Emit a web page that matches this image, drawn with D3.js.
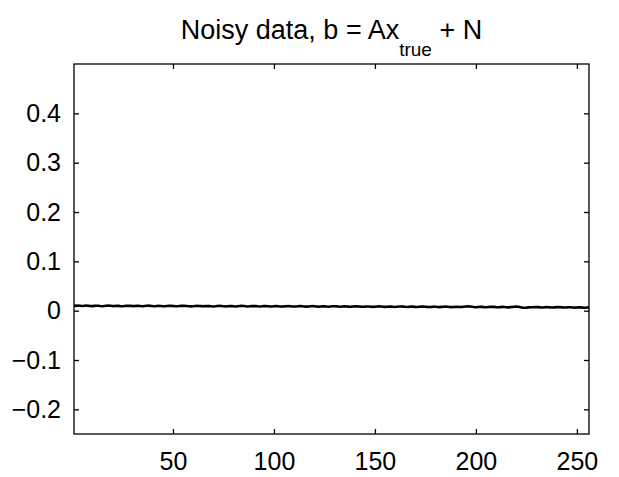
<!DOCTYPE html>
<html>
<head>
<meta charset="utf-8">
<script src="https://cdn.jsdelivr.net/npm/d3@7"></script>
<style>
  body { margin: 0; background: #fff; }
  text { font-family: "Liberation Sans", Arial, sans-serif; fill: #000; }
</style>
</head>
<body>
<div id="chart"></div>
<script>
// noisy data b = A x_true + N, one value per sample index 1..256
var bValues = [
  0.0102, 0.0098, 0.0105, 0.0101, 0.0096, 0.0099, 0.0104, 0.0100, 0.0095, 0.0092, 0.0097, 0.0101, 0.0099, 0.0094, 0.0091, 0.0096,
  0.0100, 0.0103, 0.0098, 0.0093, 0.0095, 0.0099, 0.0097, 0.0092, 0.0090, 0.0094, 0.0098, 0.0101, 0.0097, 0.0093, 0.0096, 0.0100,
  0.0098, 0.0094, 0.0091, 0.0095, 0.0099, 0.0102, 0.0097, 0.0093, 0.0090, 0.0094, 0.0097, 0.0095, 0.0091, 0.0088, 0.0093, 0.0097,
  0.0100, 0.0096, 0.0092, 0.0089, 0.0093, 0.0098, 0.0101, 0.0097, 0.0094, 0.0090, 0.0087, 0.0091, 0.0096, 0.0099, 0.0095, 0.0092,
  0.0088, 0.0092, 0.0096, 0.0093, 0.0089, 0.0086, 0.0090, 0.0095, 0.0098, 0.0094, 0.0090, 0.0087, 0.0091, 0.0094, 0.0092, 0.0088,
  0.0085, 0.0089, 0.0093, 0.0097, 0.0094, 0.0090, 0.0086, 0.0089, 0.0093, 0.0096, 0.0092, 0.0088, 0.0085, 0.0088, 0.0092, 0.0095,
  0.0091, 0.0087, 0.0084, 0.0088, 0.0092, 0.0090, 0.0086, 0.0083, 0.0087, 0.0091, 0.0094, 0.0090, 0.0086, 0.0083, 0.0086, 0.0090,
  0.0093, 0.0089, 0.0085, 0.0082, 0.0086, 0.0089, 0.0092, 0.0088, 0.0084, 0.0081, 0.0085, 0.0089, 0.0087, 0.0083, 0.0080, 0.0084,
  0.0088, 0.0091, 0.0087, 0.0083, 0.0080, 0.0084, 0.0088, 0.0086, 0.0082, 0.0079, 0.0083, 0.0087, 0.0090, 0.0086, 0.0082, 0.0079,
  0.0082, 0.0086, 0.0084, 0.0080, 0.0077, 0.0081, 0.0085, 0.0088, 0.0084, 0.0080, 0.0077, 0.0080, 0.0084, 0.0082, 0.0078, 0.0075,
  0.0079, 0.0083, 0.0086, 0.0082, 0.0078, 0.0075, 0.0079, 0.0083, 0.0081, 0.0077, 0.0074, 0.0078, 0.0082, 0.0085, 0.0081, 0.0077,
  0.0074, 0.0077, 0.0081, 0.0079, 0.0075, 0.0072, 0.0076, 0.0080, 0.0083, 0.0079, 0.0075, 0.0072, 0.0075, 0.0079, 0.0077, 0.0073,
  0.0076, 0.0080, 0.0084, 0.0088, 0.0083, 0.0078, 0.0073, 0.0070, 0.0074, 0.0078, 0.0076, 0.0072, 0.0069, 0.0073, 0.0077, 0.0080,
  0.0076, 0.0072, 0.0069, 0.0072, 0.0076, 0.0074, 0.0070, 0.0067, 0.0071, 0.0075, 0.0079, 0.0083, 0.0078, 0.0070, 0.0062, 0.0058,
  0.0061, 0.0066, 0.0070, 0.0068, 0.0072, 0.0075, 0.0071, 0.0067, 0.0064, 0.0068, 0.0072, 0.0070, 0.0066, 0.0063, 0.0067, 0.0071,
  0.0074, 0.0070, 0.0066, 0.0063, 0.0066, 0.0070, 0.0068, 0.0064, 0.0061, 0.0065, 0.0069, 0.0066, 0.0062, 0.0060, 0.0064, 0.0067
];
var xDomain = [1, 256];
var yDomain = [-0.25, 0.5];
var xTicks = [50, 100, 150, 200, 250];
var yTicks = [-0.2, -0.1, 0, 0.1, 0.2, 0.3, 0.4];
var titleParts = ["Noisy data, b = Ax", "true", " + N"];

// figure size and axes box
var vMargin = { mTop: 64, mRight: 30, mBottom: 43, mLeft: 74 },
    vWidth = 619 - vMargin.mLeft - vMargin.mRight,
    vHeight = 477 - vMargin.mTop - vMargin.mBottom;

var svg = d3.select("#chart")
    .append("svg")
    .attr("width", 619)
    .attr("height", 477);

var g = svg.append("g")
    .attr("transform", "translate(" + vMargin.mLeft + "," + vMargin.mTop + ")");

var x = d3.scaleLinear().domain(xDomain).range([0, vWidth]);
var y = d3.scaleLinear().domain(yDomain).range([vHeight, 0]);

function fmt(d) {
    return d < 0 ? "\u2212" + Math.abs(d) : String(d);
}

// ticks point inward on all four sides, matlab style
function styleAxis(sel, showText) {
    sel.select(".domain").remove();
    sel.selectAll(".tick line").attr("stroke", "#000").attr("stroke-width", 1.3);
    sel.selectAll(".tick text")
        .style("font-size", "25px")
        .style("display", showText ? null : "none");
}

g.append("g")
    .attr("transform", "translate(0," + vHeight + ")")
    .call(d3.axisBottom(x).tickValues(xTicks).tickSizeInner(-5).tickPadding(18).tickFormat(fmt))
    .call(styleAxis, true);

g.append("g")
    .call(d3.axisTop(x).tickValues(xTicks).tickSizeInner(-5).tickFormat(""))
    .call(styleAxis, false);

g.append("g")
    .call(d3.axisLeft(y).tickValues(yTicks).tickSizeInner(-5).tickPadding(13).tickFormat(fmt))
    .call(styleAxis, true);

g.append("g")
    .attr("transform", "translate(" + vWidth + ",0)")
    .call(d3.axisRight(y).tickValues(yTicks).tickSizeInner(-5).tickFormat(""))
    .call(styleAxis, false);

// data line
var line = d3.line()
    .x(function (d, i) { return x(i + 1); })
    .y(function (d) { return y(d); });

g.append("path")
    .datum(bValues)
    .attr("fill", "none")
    .attr("stroke", "#000")
    .attr("stroke-width", 2.6)
    .attr("stroke-linejoin", "round")
    .attr("d", line);

// axes box
g.append("rect")
    .attr("width", vWidth)
    .attr("height", vHeight)
    .attr("fill", "none")
    .attr("stroke", "#000")
    .attr("stroke-width", 1.3);

// title with subscript, pieces laid out side by side then centred
var vTitleBase = 39, vSubDrop = 17;
var vSizes = [27, 19, 27];
var vPieces = titleParts.map(function (aText, aIdx) {
    return svg.append("text")
        .attr("y", aIdx === 1 ? vTitleBase + vSubDrop : vTitleBase)
        .style("font-size", vSizes[aIdx] + "px")
        .style("white-space", "pre")
        .text(aText);
});
var vWidths = vPieces.map(function (p) { return p.node().getComputedTextLength(); });
var vTotal = d3.sum(vWidths);
var vCursor = vMargin.mLeft + vWidth / 2 - vTotal / 2;
vPieces.forEach(function (p, i) {
    p.attr("x", vCursor);
    vCursor += vWidths[i];
});
</script>
</body>
</html>
